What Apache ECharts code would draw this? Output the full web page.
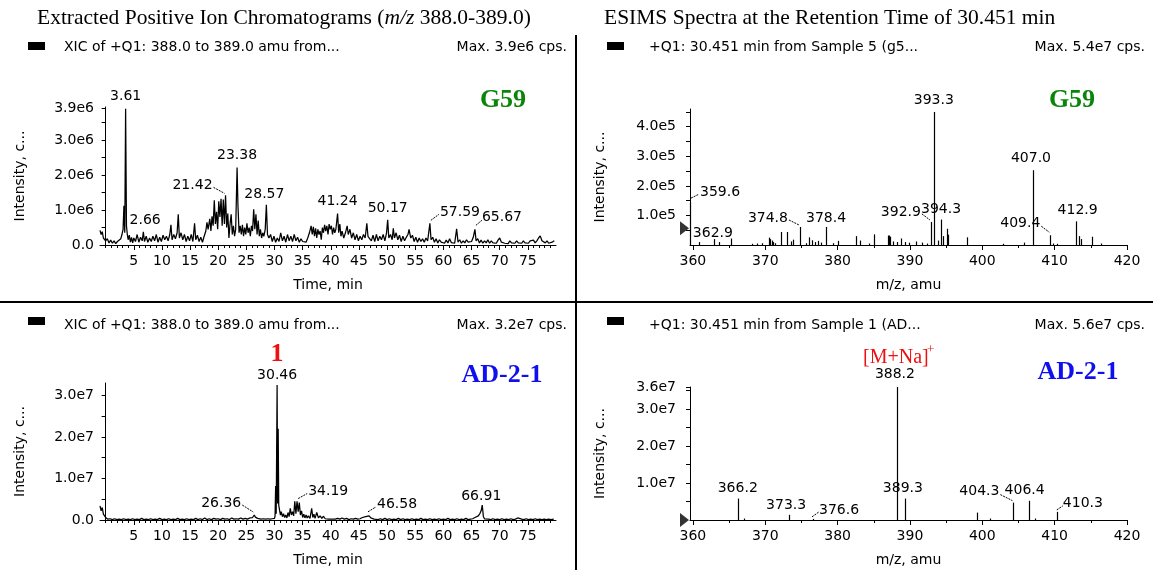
<!DOCTYPE html>
<html><head><meta charset="utf-8">
<script src="https://cdn.jsdelivr.net/npm/echarts@6.0.0/dist/echarts.min.js"></script>
<style>html,body{margin:0;padding:0;background:#fff}#c{width:1153px;height:570px}</style>
</head><body><div id="c"></div>
<script>
// ---------------- DATA ----------------
// G59 XIC (time min, intensity x1e6)
const g59Xic = [[-1.0,0.42],[-0.8,0.30],[-0.6,0.38],[-0.4,0.20],[-0.2,0.25],[0.0,0.12],[0.3,0.18],[0.6,0.06],[0.9,0.14],[1.2,0.05],[1.5,0.12],[1.8,0.04],[2.1,0.10],[2.4,0.05],[2.7,0.18],[2.9,0.30],[3.1,0.45],[3.25,1.12],[3.4,0.35],[3.55,3.90],[3.7,0.55],[3.85,0.30],[4.0,0.15],[4.2,0.28],[4.4,0.08],[4.6,0.22],[4.8,0.06],[5.0,0.20],[5.3,0.10],[5.6,0.30],[5.9,0.08],[6.2,0.22],[6.5,0.12],[6.7,0.38],[6.9,0.10],[7.2,0.25],[7.5,0.08],[7.8,0.20],[8.1,0.10],[8.4,0.25],[8.7,0.12],[9.0,0.30],[9.3,0.08],[9.6,0.22],[9.9,0.10],[10.2,0.28],[10.5,0.15],[10.8,0.25],[11.1,0.12],[11.4,0.30],[11.6,0.58],[11.8,0.15],[12.1,0.30],[12.4,0.18],[12.7,0.35],[12.9,0.88],[13.1,0.20],[13.4,0.35],[13.7,0.15],[14.0,0.30],[14.3,0.10],[14.6,0.25],[14.9,0.12],[15.2,0.30],[15.5,0.10],[15.8,0.62],[16.0,0.15],[16.3,0.28],[16.6,0.10],[16.9,0.22],[17.2,0.08],[17.5,0.25],[17.8,0.40],[18.0,0.65],[18.2,0.45],[18.5,0.75],[18.7,0.40],[18.9,0.82],[19.1,0.55],[19.3,1.28],[19.5,0.60],[19.7,0.95],[19.9,0.45],[20.1,1.25],[20.3,0.80],[20.5,1.32],[20.7,0.55],[20.9,1.30],[21.1,0.60],[21.3,1.42],[21.5,0.50],[21.7,0.90],[21.9,0.20],[22.1,0.60],[22.3,0.88],[22.5,0.30],[22.7,0.55],[22.9,0.25],[23.1,0.45],[23.35,2.22],[23.5,1.15],[23.7,0.35],[23.9,0.55],[24.1,0.30],[24.3,0.58],[24.5,0.25],[24.7,0.50],[24.9,0.30],[25.1,0.62],[25.3,0.35],[25.5,0.50],[25.7,0.25],[25.9,0.55],[26.1,0.40],[26.3,1.02],[26.5,0.45],[26.7,0.88],[26.9,0.30],[27.1,0.70],[27.3,0.25],[27.5,0.45],[27.7,0.20],[27.9,0.35],[28.1,0.25],[28.35,0.45],[28.55,1.15],[28.75,0.30],[29.0,0.20],[29.3,0.30],[29.6,0.10],[29.9,0.25],[30.2,0.08],[30.5,0.20],[30.8,0.10],[31.1,0.35],[31.4,0.12],[31.7,0.25],[32.0,0.08],[32.3,0.30],[32.6,0.12],[32.9,0.25],[33.2,0.10],[33.5,0.30],[33.8,0.12],[34.1,0.22],[34.4,0.08],[34.7,0.18],[35.0,0.10],[35.3,0.15],[35.6,0.08],[35.9,0.20],[36.2,0.35],[36.5,0.55],[36.7,0.30],[36.9,0.52],[37.1,0.25],[37.3,0.48],[37.5,0.20],[37.7,0.45],[37.9,0.30],[38.1,0.40],[38.3,0.15],[38.5,0.50],[38.7,0.35],[38.9,0.58],[39.1,0.40],[39.3,0.55],[39.5,0.30],[39.7,0.60],[39.9,0.45],[40.1,0.55],[40.3,0.30],[40.5,0.50],[40.7,0.35],[40.9,0.45],[41.2,0.90],[41.4,0.35],[41.6,0.60],[41.8,0.25],[42.0,0.40],[42.3,0.20],[42.6,0.35],[42.9,0.55],[43.1,0.30],[43.4,0.45],[43.7,0.20],[44.0,0.35],[44.3,0.15],[44.6,0.30],[44.9,0.12],[45.2,0.25],[45.5,0.15],[45.8,0.30],[46.1,0.20],[46.4,0.62],[46.6,0.25],[46.9,0.30],[47.2,0.12],[47.5,0.28],[47.8,0.10],[48.1,0.30],[48.4,0.12],[48.7,0.25],[49.0,0.15],[49.3,0.30],[49.6,0.12],[49.9,0.35],[50.1,0.72],[50.3,0.20],[50.6,0.30],[50.9,0.15],[51.1,0.48],[51.3,0.20],[51.6,0.35],[51.9,0.15],[52.2,0.28],[52.5,0.10],[52.8,0.25],[53.1,0.12],[53.4,0.22],[53.7,0.30],[53.9,0.45],[54.2,0.20],[54.5,0.28],[54.8,0.10],[55.1,0.22],[55.4,0.08],[55.7,0.20],[56.0,0.10],[56.3,0.18],[56.6,0.08],[56.9,0.20],[57.2,0.12],[57.6,0.62],[57.8,0.15],[58.1,0.22],[58.4,0.08],[58.7,0.18],[59.0,0.06],[59.3,0.15],[59.6,0.08],[59.9,0.12],[60.2,0.05],[60.5,0.14],[60.8,0.06],[61.1,0.18],[61.4,0.07],[61.7,0.12],[62.0,0.05],[62.35,0.46],[62.6,0.08],[62.9,0.15],[63.2,0.05],[63.5,0.12],[63.8,0.06],[64.1,0.15],[64.4,0.08],[64.7,0.12],[65.0,0.10],[65.3,0.22],[65.6,0.45],[65.8,0.12],[66.1,0.18],[66.4,0.06],[66.7,0.14],[67.0,0.05],[67.3,0.12],[67.6,0.06],[67.9,0.15],[68.2,0.05],[68.5,0.12],[68.8,0.06],[69.1,0.10],[69.4,0.05],[69.7,0.14],[70.0,0.20],[70.3,0.08],[70.6,0.12],[70.9,0.05],[71.2,0.10],[71.5,0.04],[71.8,0.12],[72.1,0.06],[72.4,0.10],[72.7,0.05],[73.0,0.12],[73.3,0.06],[73.6,0.10],[73.9,0.05],[74.2,0.12],[74.5,0.06],[74.8,0.10],[75.1,0.05],[75.4,0.12],[75.7,0.08],[76.0,0.14],[76.3,0.06],[76.6,0.12],[76.9,0.20],[77.2,0.26],[77.5,0.12],[77.8,0.15],[78.1,0.06],[78.4,0.12],[78.7,0.05],[79.0,0.10],[79.3,0.08],[79.7,0.12]];

// AD-2-1 XIC (time min, intensity x1e7)
const adXic = [[-1.0,0.34],[-0.8,0.22],[-0.6,0.30],[-0.4,0.14],[-0.2,0.18],[0.0,0.06],[0.2,0.08],[0.4,0.02],[0.8,0.03],[1.2,0.01],[1.6,0.03],[2.0,0.01],[2.4,0.02],[2.8,0.01],[3.2,0.03],[3.6,0.01],[4.0,0.02],[4.4,0.01],[4.8,0.03],[5.2,0.01],[5.6,0.02],[6.0,0.01],[6.4,0.04],[6.8,0.01],[7.2,0.02],[7.6,0.01],[8.0,0.03],[8.4,0.01],[8.8,0.02],[9.2,0.01],[9.6,0.04],[10.0,0.01],[10.4,0.02],[10.8,0.01],[11.2,0.03],[11.6,0.01],[12.0,0.02],[12.4,0.01],[12.8,0.04],[13.2,0.01],[13.6,0.02],[14.0,0.01],[14.4,0.03],[14.8,0.01],[15.2,0.02],[15.6,0.01],[16.0,0.04],[16.4,0.01],[16.8,0.03],[17.2,0.01],[17.6,0.05],[18.0,0.01],[18.4,0.03],[18.8,0.01],[19.2,0.04],[19.6,0.02],[20.0,0.03],[20.4,0.01],[20.8,0.04],[21.2,0.02],[21.6,0.03],[22.0,0.01],[22.4,0.05],[22.8,0.02],[23.2,0.03],[23.6,0.02],[24.0,0.05],[24.4,0.02],[24.8,0.04],[25.2,0.02],[25.6,0.05],[25.9,0.09],[26.1,0.06],[26.4,0.12],[26.6,0.07],[26.8,0.10],[27.0,0.04],[27.3,0.03],[27.6,0.02],[28.0,0.03],[28.4,0.02],[28.8,0.03],[29.2,0.02],[29.6,0.03],[30.0,0.04],[30.1,0.10],[30.2,0.82],[30.3,0.15],[30.46,3.25],[30.55,0.40],[30.65,2.20],[30.75,0.35],[30.9,0.34],[31.05,0.12],[31.2,0.20],[31.4,0.08],[31.6,0.15],[31.8,0.06],[32.0,0.12],[32.2,0.05],[32.4,0.18],[32.6,0.08],[32.8,0.28],[33.0,0.12],[33.2,0.20],[33.4,0.10],[33.6,0.45],[33.8,0.15],[34.0,0.45],[34.2,0.20],[34.4,0.42],[34.6,0.12],[34.8,0.22],[35.0,0.06],[35.2,0.14],[35.4,0.05],[35.6,0.12],[35.8,0.05],[36.0,0.10],[36.3,0.04],[36.6,0.28],[36.8,0.06],[37.0,0.14],[37.2,0.04],[37.5,0.18],[37.8,0.05],[38.1,0.10],[38.4,0.04],[38.7,0.09],[39.0,0.03],[39.3,0.07],[39.6,0.02],[39.9,0.06],[40.2,0.02],[40.5,0.05],[40.8,0.02],[41.2,0.04],[41.6,0.02],[42.0,0.05],[42.4,0.02],[42.8,0.04],[43.2,0.01],[43.6,0.03],[44.0,0.02],[44.4,0.04],[44.8,0.02],[45.2,0.03],[45.6,0.06],[45.9,0.03],[46.2,0.08],[46.5,0.04],[46.8,0.10],[47.1,0.05],[47.4,0.08],[47.7,0.02],[48.0,0.04],[48.4,0.01],[48.8,0.03],[49.2,0.01],[49.6,0.04],[50.0,0.01],[50.4,0.03],[50.8,0.01],[51.2,0.02],[51.6,0.01],[52.0,0.04],[52.4,0.01],[52.8,0.03],[53.2,0.01],[53.6,0.02],[54.0,0.01],[54.4,0.03],[54.8,0.01],[55.2,0.02],[55.6,0.01],[56.0,0.04],[56.4,0.01],[56.8,0.02],[57.2,0.01],[57.6,0.03],[58.0,0.01],[58.4,0.02],[58.8,0.01],[59.2,0.03],[59.6,0.01],[60.0,0.02],[60.4,0.01],[60.8,0.04],[61.2,0.01],[61.6,0.02],[62.0,0.01],[62.4,0.03],[62.8,0.01],[63.2,0.02],[63.6,0.01],[64.0,0.04],[64.4,0.01],[64.8,0.02],[65.2,0.03],[65.6,0.06],[65.9,0.04],[66.2,0.10],[66.5,0.16],[66.7,0.22],[66.9,0.36],[67.1,0.08],[67.3,0.03],[67.6,0.01],[68.0,0.02],[68.4,0.01],[68.8,0.03],[69.2,0.01],[69.6,0.02],[70.0,0.01],[70.4,0.03],[70.8,0.01],[71.2,0.02],[71.6,0.01],[72.0,0.03],[72.4,0.01],[72.8,0.02],[73.2,0.05],[73.5,0.01],[73.9,0.02],[74.3,0.01],[74.7,0.03],[75.1,0.01],[75.5,0.02],[75.9,0.01],[76.3,0.03],[76.7,0.01],[77.1,0.02],[77.5,0.01],[77.9,0.02],[78.3,0.01],[78.7,0.02],[79.1,0.01],[79.6,0.02]];

// G59 ESIMS spectrum (m/z, intensity x1e5)
const g59SpecMz  = [359.6,360.9,362.9,363.6,365.3,368.2,368.9,369.5,370.5,370.7,370.9,371.1,371.3,372.2,373.0,373.5,373.9,374.8,375.6,376.1,376.5,376.9,377.3,377.7,378.4,379.3,380.1,382.6,383.1,384.4,385.1,386.9,387.1,387.3,387.6,388.2,388.7,389.3,389.9,390.9,391.7,392.3,392.9,393.3,393.9,394.3,394.6,395.1,395.3,397.9,402.9,405.8,407.0,409.4,409.8,410.3,412.9,413.4,413.6,415.1,416.4];
const g59SpecInt = [1.45,0.10,0.20,0.10,0.22,0.04,0.05,0.06,0.25,0.20,0.15,0.10,0.06,0.44,0.44,0.12,0.18,0.61,0.06,0.26,0.16,0.10,0.14,0.08,0.61,0.06,0.14,0.30,0.15,0.05,0.36,0.32,0.32,0.28,0.12,0.10,0.22,0.10,0.08,0.12,0.08,0.05,0.78,4.50,0.15,0.86,0.30,0.55,0.35,0.26,0.04,0.08,2.53,0.33,0.05,0.04,0.80,0.30,0.20,0.28,0.05];

// AD-2-1 ESIMS spectrum (m/z, intensity x1e7)
const adSpecMz  = [366.2,367.1,373.3,376.6,388.2,389.3,399.3,401.0,404.3,406.4,407.3,410.3];
const adSpecInt = [0.58,0.04,0.14,0.03,3.60,0.58,0.20,0.04,0.47,0.52,0.04,0.22];

// Peak annotations [x, y, text]
const g59XicPeakLabels = [[3.55,3.9,'3.61'],[2.66,0.3,'2.66'],[21.3,1.42,'21.42'],[23.35,2.22,'23.38'],[28.55,1.15,'28.57'],[41.2,0.9,'41.24'],[50.1,0.72,'50.17'],[57.6,0.62,'57.59'],[65.6,0.45,'65.67']];
const g59SpecPeakLabels = [[393.3,4.5,'393.3'],[407.0,2.53,'407.0'],[359.6,1.45,'359.6'],[362.9,0.2,'362.9'],[374.8,0.61,'374.8'],[378.4,0.61,'378.4'],[392.9,0.78,'392.9'],[394.3,0.86,'394.3'],[409.4,0.33,'409.4'],[412.9,0.8,'412.9']];
const adXicPeakLabels = [[30.46,3.25,'30.46'],[26.4,0.12,'26.36'],[34.2,0.42,'34.19'],[46.6,0.1,'46.58'],[66.9,0.36,'66.91']];
const adSpecPeakLabels = [[388.2,3.6,'388.2'],[366.2,0.58,'366.2'],[373.3,0.14,'373.3'],[376.6,0.03,'376.6'],[389.3,0.58,'389.3'],[404.3,0.47,'404.3'],[406.4,0.52,'406.4'],[410.3,0.22,'410.3']];

// threshold markers (value coordinates)
const g59SpecMarker = [[358.84,0.57]];
const adSpecMarker = [[358.84,0]];

// tick labels
const timeLabels = [5,10,15,20,25,30,35,40,45,50,55,60,65,70,75];
const mzLabels = [360,370,380,390,400,410,420];
const g59XicYLabels = [0,1,2,3,3.9];   // x1e6
const adXicYLabels = [0,1,2,3];        // x1e7
const g59SpecYLabels = [1,2,3,4];      // x1e5
const adSpecYLabels = [1,2,3,3.6];     // x1e7

// ---------------- STYLE / LAYOUT ----------------
const SANS = '"DejaVu Sans", sans-serif';
const SERIF = '"Liberation Serif", "Times New Roman", serif';
const FS = 14;
const labelLayout = {
 '3.61':{dy:-12}, '2.66':{align:'left',dx:9,dy:-14},
 '21.42':{align:'right',dx:-13,dy:-10,leader:[-12,-8,-1,-2]},
 '23.38':{dy:-12}, '28.57':{dx:-2,dy:-10}, '41.24':{dy:-12}, '50.17':{dy:-11},
 '57.59':{align:'left',dx:10,dy:-11,leader:[1,-3,9,-9]},
 '65.67':{align:'left',dx:7,dy:-12,leader:[1,-4,7,-9]},
 '393.3':{dy:-12}, '407.0':{dx:-2,dy:-12},
 '359.6':{align:'left',dx:10,dy:-10,leader:[1,-4,9,-8]},
 '362.9':{dx:-1,dy:-6},
 '374.8':{align:'right',dx:-12,dy:-9,leader:[-11,-7,-1,-2]},
 '378.4':{dy:-9},
 '392.9':{align:'right',dx:-10,dy:-10,leader:[-9,-8,-1,-2]},
 '394.3':{dy:-10},
 '409.4':{align:'right',dx:-10,dy:-12,leader:[-9,-9,-1,-3]},
 '412.9':{dx:2,dy:-11},
 '30.46':{dy:-10},
 '26.36':{align:'right',dx:-13,dy:-12,leader:[-12,-10,-1,-3]},
 '34.19':{align:'left',dx:10,dy:-11,leader:[0,-4,9,-9]},
 '46.58':{align:'left',dx:9,dy:-11,leader:[0,-4,8,-9]},
 '66.91':{dx:-1,dy:-9},
 '388.2':{dx:-2,dy:-13}, '366.2':{dy:-10}, '373.3':{dx:-3,dy:-9},
 '376.6':{align:'left',dx:6,dy:-9,leader:[-1,-2,6,-7]},
 '389.3':{dx:-2,dy:-10},
 '404.3':{align:'right',dx:-14,dy:-11,leader:[-13,-8,-1,-2]},
 '406.4':{dx:-4,dy:-10},
 '410.3':{align:'left',dx:6,dy:-9,leader:[0,-2,6,-6]}
};

const range = (a, b, s) => { const r = []; for (let v = a; v <= b + 1e-9; v += s) r.push(+v.toFixed(4)); return r; };

const grids = [
  {left:100, top:107, width:456, height:138},
  {left:690, top:109, width:437, height:136},
  {left:100, top:383, width:456, height:137},
  {left:690, top:387, width:437, height:133}
];

function xMain(gi, min, max, labels, ticks, name) {
  return {type:'value', gridIndex:gi, min, max, position:'bottom',
    name, nameLocation:'middle', nameGap:33, nameTextStyle:{fontFamily:SANS, fontSize:FS, color:'#000'},
    axisLine:{show:true, onZero:false, lineStyle:{color:'#000', width:1}},
    axisTick:{show:true, customValues:ticks, length:3, lineStyle:{color:'#000'}},
    axisLabel:{show:true, customValues:labels, color:'#000', fontFamily:SANS, fontSize:FS, margin:9},
    splitLine:{show:false}};
}
function xMajor(gi, min, max, ticks) {
  return {type:'value', gridIndex:gi, min, max, position:'bottom',
    axisLine:{show:false}, axisTick:{show:true, customValues:ticks, length:5, lineStyle:{color:'#000'}},
    axisLabel:{show:false}, splitLine:{show:false}};
}
function yAxis(gi, max, labels, ticks, exp, margin, gap) {
  return {type:'value', gridIndex:gi, min:0, max,
    name:'Intensity, c...', nameLocation:'middle', nameRotate:90, nameGap:gap,
    nameTextStyle:{fontFamily:SANS, fontSize:FS, color:'#000'},
    axisLine:{show:true, lineStyle:{color:'#000', width:1}},
    axisTick:{show:true, customValues:ticks, length:4, lineStyle:{color:'#000'}},
    axisLabel:{show:true, customValues:labels, color:'#000', fontFamily:SANS, fontSize:FS, margin,
      formatter: v => v === 0 ? '0.0' : v.toFixed(1) + exp},
    splitLine:{show:false}};
}

function traceSeries(gi, data) {
  return {type:'line', xAxisIndex:gi, yAxisIndex:gi, data, showSymbol:false, symbol:'none',
    lineStyle:{color:'#000', width:1.25}, animation:false, z:3};
}
function stickSeries(gi, mz, ints) {
  return {type:'custom', xAxisIndex:gi, yAxisIndex:gi, data: mz.map((m, i) => [m, ints[i]]), animation:false, z:3,
    renderItem(params, api) {
      const p0 = api.coord([api.value(0), 0]);
      const p1 = api.coord([api.value(0), api.value(1)]);
      const x = Math.round(p0[0]) + 0.5;
      return {type:'line', shape:{x1:x, y1:p0[1], x2:x, y2:p1[1]}, style:{stroke:'#000', lineWidth:1.2}};
    }};
}
function labelSeries(gi, labels) {
  return {type:'custom', xAxisIndex:gi, yAxisIndex:gi, data: labels.map(l => [l[0], l[1]]), clip:false, silent:true, animation:false, z:5,
    renderItem(params, api) {
      const l = labels[params.dataIndex];
      const p = api.coord([l[0], l[1]]);
      const o = labelLayout[l[2]] || {};
      const children = [{type:'text', x:p[0] + (o.dx || 0), y:p[1] + (o.dy === undefined ? -10 : o.dy),
        style:{text:l[2], font:FS + 'px ' + SANS, fill:'#000', align:o.align || 'center', verticalAlign:'middle'}}];
      if (o.leader) {
        children.push({type:'line', shape:{x1:p[0] + o.leader[0], y1:p[1] + o.leader[1], x2:p[0] + o.leader[2], y2:p[1] + o.leader[3]},
          style:{stroke:'#000', lineWidth:1, lineDash:[2,1]}});
      }
      return {type:'group', children};
    }};
}
function markerSeries(gi, pts) {
  return {type:'scatter', xAxisIndex:gi, yAxisIndex:gi, data:pts, clip:false, symbol:'triangle', symbolRotate:-90,
    symbolSize:[14, 9], itemStyle:{color:'#000'}, silent:true, animation:false, z:4};
}

function txt(x, y, text, font, fill, align) {
  return {type:'text', x, y, style:{text, font, fill:fill || '#000', align:align || 'left', verticalAlign:'middle'}};
}
function rect(x, y, w, h) { return {type:'rect', shape:{x, y, width:w, height:h}, style:{fill:'#000'}}; }
function hline(x1, y1, x2, y2, w) { return {type:'line', shape:{x1, y1, x2, y2}, style:{stroke:'#000', lineWidth:w}}; }

const sansSmall = FS + 'px ' + SANS;
const bigBold = 'bold 26px ' + SERIF;

const option = {
  backgroundColor:'#fff',
  animation:false,
  textStyle:{fontFamily:SANS},
  grid: grids,
  xAxis: [
    xMain(0, -1, 80, timeLabels, range(0, 79, 1), 'Time, min'),
    xMain(1, 359.6, 420, mzLabels, range(360, 420, 5), 'm/z, amu'),
    xMain(2, -1, 80, timeLabels, range(0, 79, 1), 'Time, min'),
    xMain(3, 359.6, 420, mzLabels, range(360, 420, 5), 'm/z, amu'),
    xMajor(0, -1, 80, timeLabels), xMajor(1, 359.6, 420, mzLabels),
    xMajor(2, -1, 80, timeLabels), xMajor(3, 359.6, 420, mzLabels)
  ],
  yAxis: [
    yAxis(0, 3.95, g59XicYLabels, [0,0.5,1,1.5,2,2.5,3,3.5,3.9], 'e6', 6, 73),
    yAxis(1, 4.6, g59SpecYLabels, [0.5,1,1.5,2,2.5,3,3.5,4,4.5], 'e5', 14, 83),
    yAxis(2, 3.3, adXicYLabels, [0,0.5,1,1.5,2,2.5,3], 'e7', 6, 73),
    yAxis(3, 3.6, adSpecYLabels, [0.5,1,1.5,2,2.5,3,3.5,3.6], 'e7', 14, 83)
  ],
  series: [
    traceSeries(0, g59Xic), stickSeries(1, g59SpecMz, g59SpecInt),
    traceSeries(2, adXic), stickSeries(3, adSpecMz, adSpecInt),
    labelSeries(0, g59XicPeakLabels), labelSeries(1, g59SpecPeakLabels),
    labelSeries(2, adXicPeakLabels), labelSeries(3, adSpecPeakLabels),
    markerSeries(1, g59SpecMarker), markerSeries(3, adSpecMarker)
  ],
  graphic: [
    {type:'text', x:37, y:18, style:{text:'{n|Extracted Positive Ion Chromatograms (}{i|m/z}{n| 388.0-389.0)}', verticalAlign:'middle',
      rich:{n:{font:'21.5px ' + SERIF, fill:'#000'}, i:{font:'italic 21.5px ' + SERIF, fill:'#000'}}}},
    txt(604, 18, 'ESIMS Spectra at the Retention Time of 30.451 min', '21.5px ' + SERIF),
    hline(576, 35, 576, 570, 2),
    hline(0, 302, 1153, 302, 2),
    rect(28, 42, 17, 8), rect(607, 42, 17, 8), rect(28, 317, 17, 8), rect(607, 317, 17, 8),
    txt(64, 47, 'XIC of +Q1: 388.0 to 389.0 amu from...', sansSmall),
    txt(567, 47, 'Max. 3.9e6 cps.', sansSmall, '#000', 'right'),
    txt(649, 47, '+Q1: 30.451 min from Sample 5 (g5...', sansSmall),
    txt(1145, 47, 'Max. 5.4e7 cps.', sansSmall, '#000', 'right'),
    txt(64, 325, 'XIC of +Q1: 388.0 to 389.0 amu from...', sansSmall),
    txt(567, 325, 'Max. 3.2e7 cps.', sansSmall, '#000', 'right'),
    txt(649, 325, '+Q1: 30.451 min from Sample 1 (AD...', sansSmall),
    txt(1145, 325, 'Max. 5.6e7 cps.', sansSmall, '#000', 'right'),
    txt(503, 100, 'G59', bigBold, '#0a850a', 'center'),
    txt(1072, 100, 'G59', bigBold, '#0a850a', 'center'),
    txt(502, 375, 'AD-2-1', bigBold, '#1010ee', 'center'),
    txt(1078, 372, 'AD-2-1', bigBold, '#1010ee', 'center'),
    txt(277, 354, '1', 'bold 26px ' + SERIF, '#ee1010', 'center'),
    txt(863, 358, '[M+Na]', '20px ' + SERIF, '#ee1010', 'left'),
    txt(927, 350, '+', '13px ' + SERIF, '#ee1010', 'left')
  ]
};

const chart = echarts.init(document.getElementById('c'), null, {renderer:'canvas'});
chart.setOption(option);
</script></body></html>
